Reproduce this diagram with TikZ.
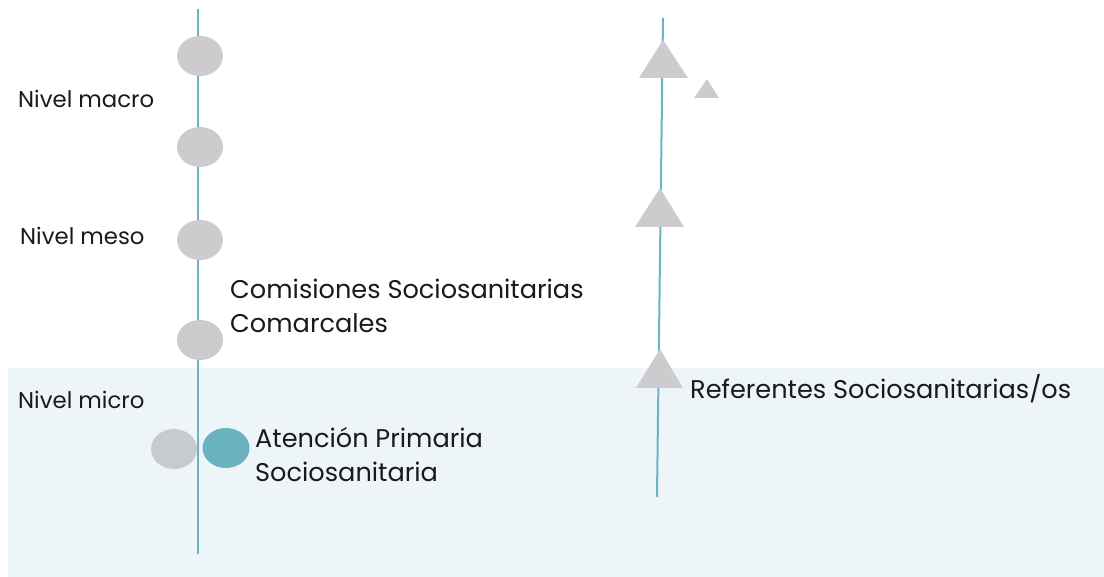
\documentclass[tikz,border=0pt]{standalone}
\usepackage{fontspec}
\setmainfont{Poppins}
\usetikzlibrary{shapes.geometric}
\definecolor{band}{HTML}{EEF5F8}
\definecolor{axis}{HTML}{6BB5C3}
\definecolor{dot}{HTML}{CCCBCD}
\definecolor{dotb}{HTML}{C8CBCE}
\definecolor{teal}{HTML}{6AB2BD}
\definecolor{txt}{HTML}{1A1A1A}
\tikzset{
  axisline/.style={draw=axis,line width=2pt},
  dotnode/.style={ellipse,fill=dot,draw=none,minimum width=46pt,minimum height=40pt,inner sep=0pt},
  tri/.style={fill=dot,draw=none},
  lvl/.style={anchor=base west,inner sep=0pt,text=txt,font=\fontsize{22.8}{26}\selectfont},
  lab/.style={anchor=base west,inner sep=0pt,text=txt,align=left,font=\fontsize{25.6}{34.5}\selectfont},
}
\begin{document}
\begin{tikzpicture}[x=1pt,y=-1pt]
\useasboundingbox (0,0) rectangle (1104,577);
\fill[band] (8,368) rectangle (1104,577);
% axes
\coordinate (la) at (198,9);
\coordinate (lb) at (198,554);
\coordinate (ra) at (663,18);
\coordinate (rb) at (657,497);
\draw[axisline] (la) -- (lb);
\draw[axisline] (ra) -- (rb);
% left dots
\node[dotnode] (c1) at (200,56) {};
\node[dotnode] (c2) at (200,147) {};
\node[dotnode] (c3) at (200,240) {};
\node[dotnode] (c4) at (200,340) {};
\node[dotnode,fill=dotb] (c5) at (174,449) {};
\node[dotnode,fill=teal,minimum width=47pt] (c6) at (226,448) {};
% triangles
\fill[tri] (663,40) -- (688,78) -- (639,78) -- cycle;
\fill[tri] (707,79) -- (719,98) -- (694,98) -- cycle;
\fill[tri] (660,188) -- (684,227) -- (635,227) -- cycle;
\fill[tri] (660,349) -- (683,388) -- (636,388) -- cycle;
% level labels
\node[lvl] (l1) at (18,108) {Nivel macro};
\node[lvl] (l2) at (20,245) {Nivel meso};
\node[lvl] (l3) at (18,409) {Nivel micro};
% main labels
\node[lab] (t1) at (230,333) {Comisiones Sociosanitarias\\Comarcales};
\node[lab] (t2) at (255,482) {Atención Primaria\\Sociosanitaria};
\node[lab] (t3) at (690,399) {Referentes Sociosanitarias/os};
\end{tikzpicture}
\end{document}
